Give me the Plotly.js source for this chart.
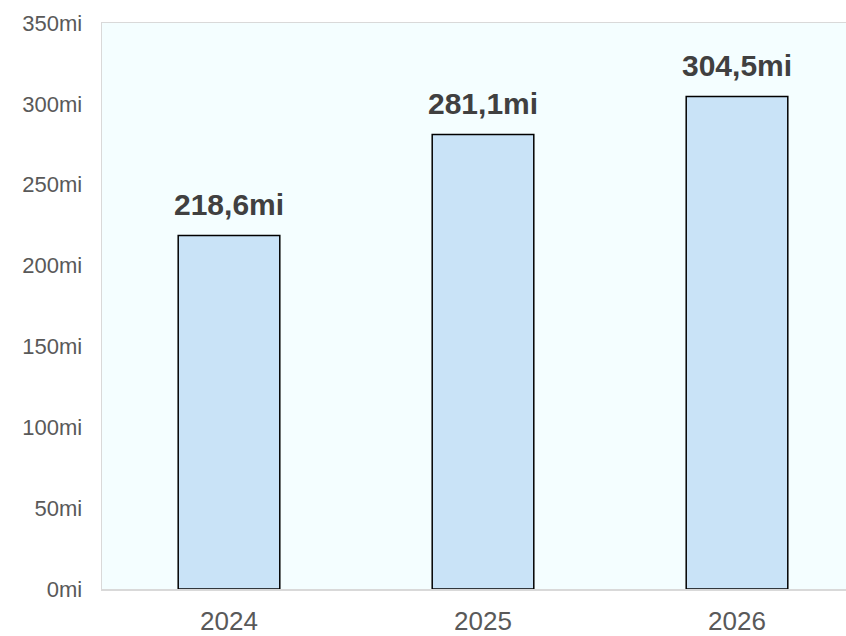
<!DOCTYPE html>
<html>
<head>
<meta charset="utf-8">
<script src="https://cdn.plot.ly/plotly-3.0.1.min.js"></script>
<style>
html,body{margin:0;padding:0;background:#fff;overflow:hidden;width:846px;height:636px;}
#chart{width:880px;height:636px;}
</style>
</head>
<body>
<div id="chart"></div>
<script>
var categories = ['2024', '2025', '2026'];
var values = [218.6, 281.1, 304.5];
var yTickValues = [0, 50, 100, 150, 200, 250, 300, 350];
var yTickLabels = ['0mi', '50mi', '100mi', '150mi', '200mi', '250mi', '300mi', '350mi'];

var labels = values.map(function (v) { return v.toFixed(1).replace('.', ',') + 'mi'; });

var trace = {
  type: 'bar',
  x: categories,
  y: values,
  marker: { color: '#C9E3F7', line: { color: '#000000', width: 1.5 } },
  hoverinfo: 'none'
};

var annotations = categories.map(function (c, i) {
  return {
    x: i, y: values[i], xref: 'x', yref: 'y',
    text: labels[i], showarrow: false,
    yanchor: 'middle', yshift: 31,
    font: { family: 'Liberation Sans, Arial, sans-serif', size: 30, color: '#404040', weight: 'bold' }
  };
});

var layout = {
  width: 880, height: 636,
  margin: { l: 102, r: 16, t: 23, b: 47, pad: 0 },
  paper_bgcolor: '#ffffff',
  plot_bgcolor: '#F4FEFF',
  bargap: 0.6,
  showlegend: false,
  font: { family: 'Liberation Sans, Arial, sans-serif', color: '#595959' },
  xaxis: {
    type: 'category',
    categoryorder: 'array', categoryarray: categories,
    range: [-0.5, categories.length - 0.5], autorange: false,
    showline: true, linecolor: '#D9D9D9', linewidth: 1.5, mirror: true,
    showgrid: false, zeroline: false,
    ticks: 'outside', ticklen: 8, tickcolor: 'rgba(0,0,0,0)',
    tickfont: { size: 26, color: '#595959' }
  },
  yaxis: {
    range: [0, 350], autorange: false,
    tickmode: 'array', tickvals: yTickValues, ticktext: yTickLabels,
    showline: true, linecolor: '#D9D9D9', linewidth: 1.5, mirror: true,
    showgrid: false, zeroline: false,
    ticks: 'outside', ticklen: 14, tickcolor: 'rgba(0,0,0,0)',
    tickfont: { size: 22, color: '#595959' }
  },
  annotations: annotations
};

Plotly.newPlot('chart', [trace], layout, { displayModeBar: false, staticPlot: true });
</script>
</body>
</html>
